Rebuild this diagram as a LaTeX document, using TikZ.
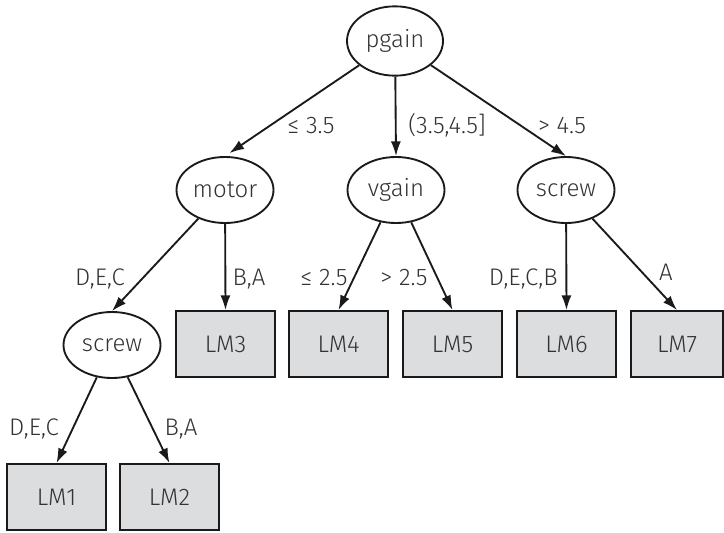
\documentclass[tikz,border=0pt]{standalone}
\usepackage{fontspec}
\setmainfont{Fira Sans}[UprightFont=* Light]
\usetikzlibrary{shapes.geometric,arrows.meta}
\definecolor{txt}{HTML}{333333}
\definecolor{boxfill}{HTML}{DCDDDE}
\definecolor{ln}{HTML}{1A1A1A}
\begin{document}
\begin{tikzpicture}[x=0.75pt,y=-0.75pt,
  every node/.style={font=\fontsize{18}{20}\selectfont, text=txt},
  dnode/.style={ellipse, draw=ln, line width=1.4pt, minimum width=72.75pt, minimum height=49.5pt, inner sep=0pt},
  leaf/.style={rectangle, draw=ln, fill=boxfill, line width=1.4pt, minimum width=74.25pt, minimum height=49.5pt, inner sep=0pt},
  arr/.style={draw=ln, line width=1.4pt, -{Latex[length=11pt,width=7.5pt]}},
  lab/.style={anchor=base, inner sep=0pt}]
\useasboundingbox (0,0) rectangle (724,532);
% decision nodes
\node[dnode, minimum width=72pt, minimum height=52pt] (pgain) at (395,41) {pgain};
\node[dnode] (motor) at (225,190) {motor};
\node[dnode] (vgain) at (396,190) {vgain};
\node[dnode] (screwA) at (566,190) {screw};
\node[dnode] (screwB) at (112,345) {screw};
% leaves
\node[leaf] (LM1) at (56.5,497) {LM1};
\node[leaf] (LM2) at (169.5,497) {LM2};
\node[leaf] (LM3) at (225.5,344) {LM3};
\node[leaf] (LM4) at (338.5,344) {LM4};
\node[leaf] (LM5) at (452.5,344) {LM5};
\node[leaf] (LM6) at (566.5,344) {LM6};
\node[leaf, minimum width=69pt] (LM7) at (677,344) {LM7};
% connectors
\draw[arr, shorten >=4pt] (pgain) -- (motor.north);
\draw[arr] (pgain) -- (vgain.north);
\draw[arr] (pgain) -- (screwA.north);
\draw[arr] (motor) -- (screwB.north);
\draw[arr] (motor) -- (LM3.north);
\draw[arr] (vgain) -- (LM4.north);
\draw[arr] (vgain) -- (LM5.north);
\draw[arr] (screwA) -- (LM6.north);
\draw[arr] (screwA) -- (LM7.north);
\draw[arr] (screwB) -- (LM1.north);
\draw[arr] (screwB) -- (LM2.north);
% labels
\node[lab] (l1) at (311,133) {≤ 3.5};
\node[lab] (l2) at (447,133) {(3.5,4.5]};
\node[lab] (l3) at (562,133) {> 4.5};
\node[lab] (l4) at (100,285) {D,E,C};
\node[lab] (l5) at (249,285) {B,A};
\node[lab] (l6) at (324,285) {≤ 2.5};
\node[lab] (l7) at (404,285) {> 2.5};
\node[lab, anchor=base east] (l8) at (558,285) {D,E,C,B};
\node[lab] (l9) at (666,280) {A};
\node[lab] (l10) at (34,435) {D,E,C};
\node[lab] (l11) at (181,435) {B,A};
\end{tikzpicture}
\end{document}
